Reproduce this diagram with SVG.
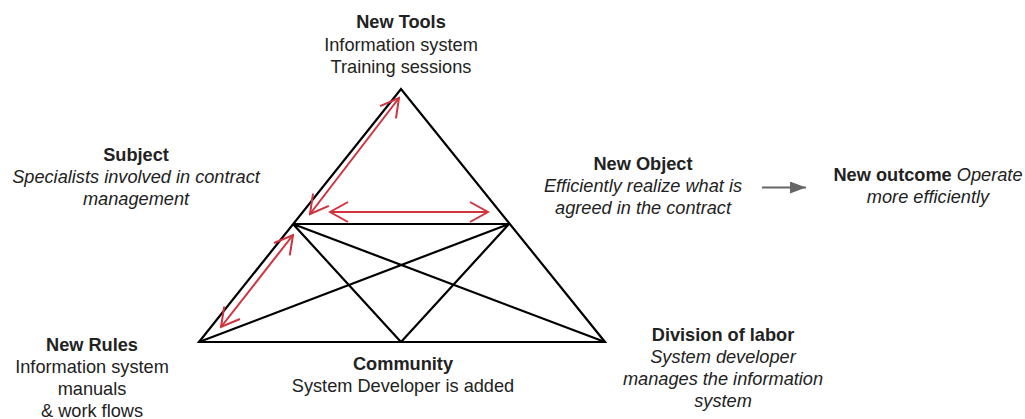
<svg xmlns="http://www.w3.org/2000/svg" width="1025" height="419" viewBox="0 0 1025 419">
<defs>
<style>
text{font-family:"Liberation Sans",Arial,sans-serif;font-size:18.2px;fill:#222;text-anchor:middle}
.b{font-weight:bold}
.i{font-style:italic}
.blk{stroke:#000;stroke-width:2.2;fill:none;stroke-linejoin:miter}
.red{stroke:#d0323e;stroke-width:2;fill:none;marker-start:url(#ch);marker-end:url(#ch)}
</style>
<marker id="ch" viewBox="0 0 22 24" refX="20" refY="12" markerWidth="22" markerHeight="24" markerUnits="userSpaceOnUse" orient="auto-start-reverse">
<path d="M2,2 L20,12 L2,22" fill="none" stroke="#d0323e" stroke-width="2"/>
</marker>
<marker id="gh" viewBox="0 0 16 12" refX="16" refY="6" markerWidth="16" markerHeight="12" markerUnits="userSpaceOnUse" orient="auto">
<path d="M0,0 L16,6 L0,12 Z" fill="#666"/>
</marker>
</defs>
<g id="connectors">
<path class="blk" d="M199,342 L401,89 L605,342 Z"/>
<path class="blk" d="M293,224 L509,224"/>
<path class="blk" d="M293,224 L401,342 M293,224 L605,342 M509,224 L401,342 M509,224 L199,342"/>
<path class="red" d="M310,214 L399,98"/>
<path class="red" d="M330,212 L488,212"/>
<path class="red" d="M221,327 L293,235"/>
<path d="M762,187.5 L806,187.5" stroke="#666" stroke-width="2" fill="none" marker-end="url(#gh)"/>
</g>
<g id="tools">
<text x="401" y="28" class="b">New Tools</text>
<text x="401" y="51">Information system</text>
<text x="401" y="73">Training sessions</text>
</g>
<g id="subject">
<text x="136" y="161" class="b">Subject</text>
<text x="136" y="183" class="i">Specialists involved in contract</text>
<text x="136" y="205" class="i">management</text>
</g>
<g id="object">
<text x="643" y="170" class="b">New Object</text>
<text x="643" y="192" class="i">Efficiently realize what is</text>
<text x="643" y="214" class="i">agreed in the contract</text>
</g>
<g id="outcome">
<text x="928" y="181"><tspan class="b">New outcome</tspan> <tspan class="i">Operate</tspan></text>
<text x="928" y="203" class="i">more efficiently</text>
</g>
<g id="rules">
<text x="92" y="351" class="b">New Rules</text>
<text x="92" y="373">Information system</text>
<text x="92" y="395">manuals</text>
<text x="92" y="417">&amp; work flows</text>
</g>
<g id="community">
<text x="403" y="370" class="b">Community</text>
<text x="403" y="392">System Developer is added</text>
</g>
<g id="division">
<text x="723" y="341" class="b">Division of labor</text>
<text x="723" y="363" class="i">System developer</text>
<text x="723" y="385" class="i">manages the information</text>
<text x="723" y="407" class="i">system</text>
</g>
</svg>
